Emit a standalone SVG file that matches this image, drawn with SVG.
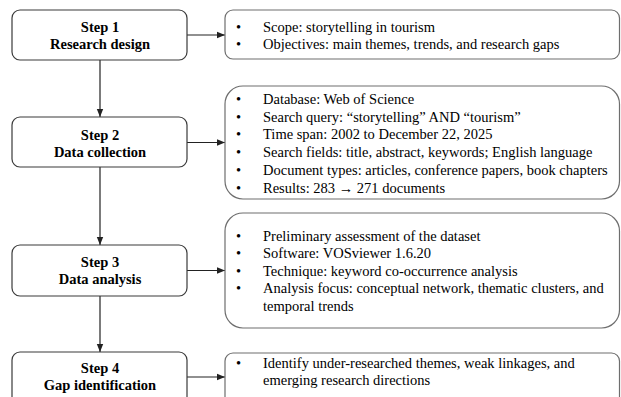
<svg xmlns="http://www.w3.org/2000/svg" width="621" height="397" viewBox="0 0 621 397">
<defs>
<marker id="ah" markerWidth="8" markerHeight="8" viewBox="0 0 8 8" refX="8" refY="4" orient="auto" markerUnits="userSpaceOnUse">
<path d="M0,0.8 L8,4 L0,7.2 Z" fill="#222"/>
</marker>
<style>
.step{fill:#fff;stroke:#3a3a3a;stroke-width:1.2}
.info{fill:#fff;stroke:#6e6e6e;stroke-width:1.2}
.lbl{font-weight:bold;text-anchor:middle}
.con{stroke:#222;stroke-width:1.2;fill:none;marker-end:url(#ah)}
</style>
</defs>
<rect width="621" height="397" fill="#fff"/>
<g id="connectors">
<line class="con" x1="100" y1="60" x2="100" y2="117"/>
<line class="con" x1="100" y1="167" x2="100" y2="245"/>
<line class="con" x1="100" y1="296" x2="100" y2="352"/>
<line class="con" x1="187" y1="35" x2="225" y2="35"/>
<line class="con" x1="187" y1="142.5" x2="225" y2="142.5"/>
<line class="con" x1="187" y1="270.5" x2="225" y2="270.5"/>
<line class="con" x1="187" y1="377" x2="225" y2="377"/>
</g>
<g font-family="Liberation Serif, serif" font-size="14.5" fill="#000">
<g id="step1">
<rect class="step" x="12" y="10" width="175" height="50" rx="8"/>
<text class="lbl" x="100" y="31.5">Step 1</text>
<text class="lbl" x="100" y="48.5">Research design</text>
</g>
<g id="step2">
<rect class="step" x="12" y="117" width="175" height="50" rx="8"/>
<text class="lbl" x="100" y="140">Step 2</text>
<text class="lbl" x="100" y="157">Data collection</text>
</g>
<g id="step3">
<rect class="step" x="12" y="245" width="175" height="51" rx="8"/>
<text class="lbl" x="100" y="267">Step 3</text>
<text class="lbl" x="100" y="284">Data analysis</text>
</g>
<g id="step4">
<rect class="step" x="12" y="352" width="175" height="60" rx="8"/>
<text class="lbl" x="100" y="373">Step 4</text>
<text class="lbl" x="100" y="390">Gap identification</text>
</g>
<g id="info1">
<rect class="info" x="225" y="10" width="394.5" height="49" rx="8"/>
<text x="236" y="31.5">•</text><text x="263" y="31.5">Scope: storytelling in tourism</text>
<text x="236" y="49">•</text><text x="263" y="49">Objectives: main themes, trends, and research gaps</text>
</g>
<g id="info2">
<rect class="info" x="225" y="86" width="394.5" height="113" rx="18"/>
<text x="236" y="104">•</text><text x="263" y="104">Database: Web of Science</text>
<text x="236" y="121.7">•</text><text x="263" y="121.7">Search query: “storytelling” AND “tourism”</text>
<text x="236" y="139.4">•</text><text x="263" y="139.4">Time span: 2002 to December 22, 2025</text>
<text x="236" y="157.1">•</text><text x="263" y="157.1">Search fields: title, abstract, keywords; English language</text>
<text x="236" y="174.8">•</text><text x="263" y="174.8">Document types: articles, conference papers, book chapters</text>
<text x="236" y="192.5">•</text><text x="263" y="192.5">Results: 283 → 271 documents</text>
</g>
<g id="info3">
<rect class="info" x="225" y="213" width="394.5" height="115" rx="18"/>
<text x="236" y="240.5">•</text><text x="263" y="240.5">Preliminary assessment of the dataset</text>
<text x="236" y="258">•</text><text x="263" y="258">Software: VOSviewer 1.6.20</text>
<text x="236" y="275.5">•</text><text x="263" y="275.5">Technique: keyword co-occurrence analysis</text>
<text x="236" y="293">•</text><text x="263" y="293">Analysis focus: conceptual network, thematic clusters, and</text>
<text x="263" y="310.5">temporal trends</text>
</g>
<g id="info4">
<rect class="info" x="225" y="353" width="394.5" height="60" rx="8"/>
<text x="236" y="368">•</text><text x="263" y="368">Identify under-researched themes, weak linkages, and</text>
<text x="263" y="385">emerging research directions</text>
</g>
</g>
</svg>
